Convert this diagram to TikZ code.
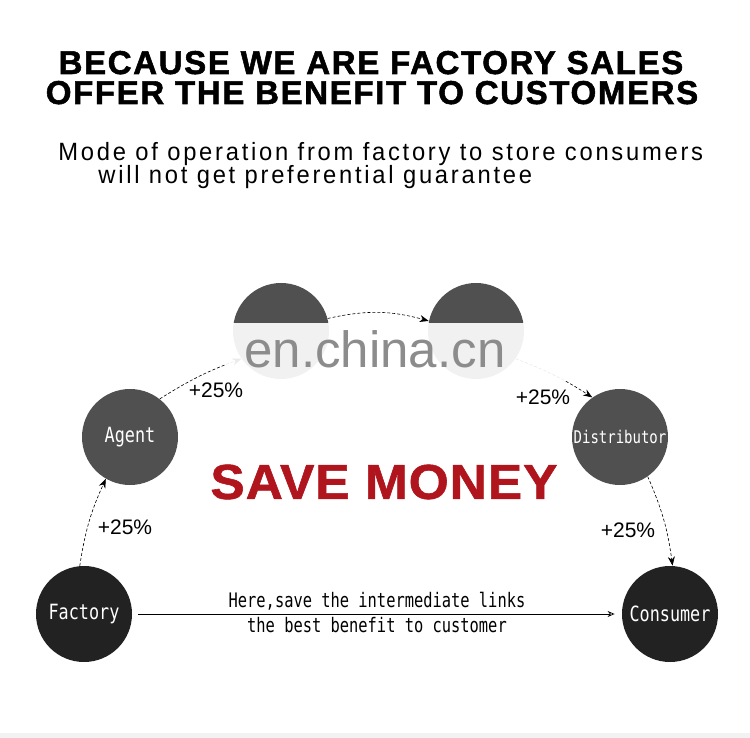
\documentclass[tikz,border=0pt]{standalone}
\usepackage{fontspec}
\setmainfont{Liberation Sans}
\newfontfamily\titlefont{Liberation Sans}[LetterSpace=5, FakeBold=1.6]
\newfontfamily\redfont{Liberation Sans}[LetterSpace=2, FakeBold=1.2, FakeStretch=1.05]
\newfontfamily\subfont{Liberation Sans}[LetterSpace=11, FakeStretch=0.95]
\newfontfamily\labelfont{DejaVu Sans Mono}[FakeStretch=0.8]
\newfontfamily\routefont{DejaVu Sans Mono}[FakeStretch=0.77]
\usetikzlibrary{arrows.meta, positioning}
\definecolor{darkdot}{HTML}{222222}
\definecolor{greydot}{HTML}{505050}
\definecolor{savered}{HTML}{B0141C}

\begin{document}
\begin{tikzpicture}[x=1pt, y=-1pt, line width=0.8pt,
  stage/.style={circle, minimum size=96pt, inner sep=0pt, fill=greydot, text=white,
    font=\labelfont\fontsize{21}{23}\selectfont},
  endstage/.style={stage, fill=darkdot},
  flow/.style={densely dashed, line width=0.6pt, -{Stealth[length=9pt, width=7pt]}},
  percent/.style={font=\fontsize{21}{23}\selectfont}]
  % Canvas
  \fill[white] (0,0) rectangle (750,738);
  \fill[black!5] (0,733) rectangle (750,738);

  % Heading
  \node[anchor=base, font=\titlefont\bfseries\fontsize{33}{35}\selectfont] (title1) at (371,74) {BECAUSE WE ARE FACTORY SALES};
  \node[anchor=base, font=\titlefont\bfseries\fontsize{33}{35}\selectfont] (title2) at (372,104) {OFFER THE BENEFIT TO CUSTOMERS};
  \node[anchor=base west, inner sep=0pt, font=\subfont\fontsize{25}{27}\selectfont] (sub1) at (58,161) {Mode of operation from factory to store consumers};
  \node[anchor=base west, inner sep=0pt, font=\subfont\fontsize{25}{27}\selectfont] (sub2) at (98,184) {will not get preferential guarantee};

  % Stages
  \node[endstage] (factory) at (84,614) {Factory};
  \node[stage] (agent) at (130,437) {Agent};
  \node[stage] (wholesale) at (281,331) {};
  \node[stage] (retail) at (476,331) {};
  \node[stage, font=\labelfont\fontsize{17.5}{19}\selectfont] (distributor) at (620,437) {Distributor};
  \node[endstage] (consumer) at (670,614) {Consumer};

  % Mark-ups
  \draw[flow] (factory.95) to[bend left=8] (agent.240);
  \draw[flow] (agent.52) to[bend left=6] (wholesale.215);
  \draw[flow] (wholesale.15) to[bend left=14] (retail.168);
  \draw[flow] (retail.-35) to[bend left=6] (distributor.125);
  \draw[flow] (distributor.-55) to[bend left=8] (consumer.87);

  \node[percent] (p1) at (125,527) {+25\%};
  \node[percent] (p2) at (216,390) {+25\%};
  \node[percent] (p3) at (543,397) {+25\%};
  \node[percent] (p4) at (628,530) {+25\%};

  % Direct route
  \draw[line width=0.7pt, -{Stealth[open, length=7pt, width=6pt]}, shorten <=6pt, shorten >=7pt]
    (factory.east) -- (consumer.west)
    node[midway, above=0pt, font=\routefont\fontsize{20}{22}\selectfont] (route1) {Here,save the intermediate links}
    node[midway, below=0pt, font=\routefont\fontsize{20}{22}\selectfont] (route2) {the best benefit to customer};

  \node[font=\redfont\bfseries\fontsize{49}{51}\selectfont, text=savered] (save) at (384,482) {SAVE MONEY};

  % Watermark
  \fill[white, opacity=0.92] (225,323) rectangle (585,381);
  \node[font=\fontsize{51}{53}\selectfont, text=black!45] (mark) at (375,349) {en.china.cn};
\end{tikzpicture}
\end{document}
